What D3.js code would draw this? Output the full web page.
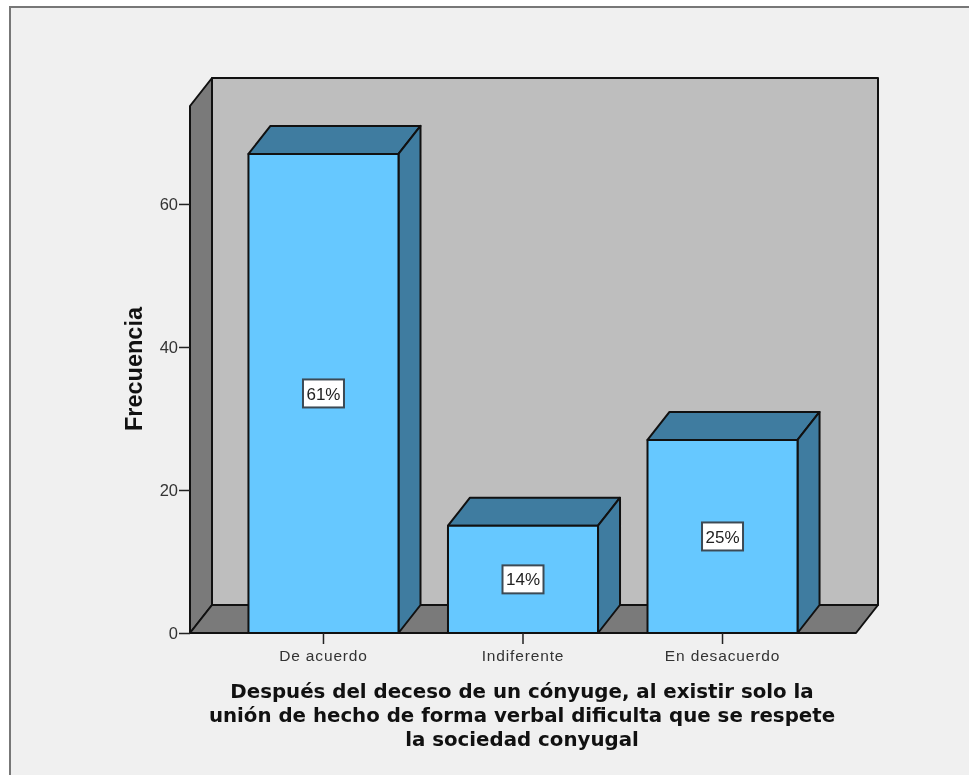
<!DOCTYPE html>
<html>
<head>
<meta charset="utf-8">
<script src="https://cdn.jsdelivr.net/npm/d3@7"></script>
<style>
html, body { margin: 0; padding: 0; background: #fff; }
svg { display: block; filter: blur(0.7px); }
</style>
</head>
<body>
<div id="chart-area"></div>
<script>
var categories = ["De acuerdo", "Indiferente", "En desacuerdo"];
var frequencies = [67, 15, 27];
var percentLabels = ["61%", "14%", "25%"];
var yTicks = [0, 20, 40, 60];
var titleLines = [
	"Después del deceso de un cónyuge, al existir solo la",
	"unión de hecho de forma verbal dificulta que se respete",
	"la sociedad conyugal"
];

var width = 969, height = 775;
var plot = { left: 190, right: 856, top: 106, bottom: 633 };
var depth = { x: 22, y: -28 };

var svg = d3.select("#chart-area")
	.append("svg")
	.attr("width", width)
	.attr("height", height);

// panel and its frame
svg.append("rect").attr("width", width).attr("height", height).attr("fill", "#fff");
svg.append("rect")
	.attr("x", 10).attr("y", 7)
	.attr("width", width + 20).attr("height", height + 20)
	.attr("fill", "#f0f0f0")
	.attr("stroke", "#777")
	.attr("stroke-width", 2);

var x = d3.scaleBand()
	.domain(categories)
	.range([plot.left, plot.right])
	.paddingInner(0.248)
	.paddingOuter(0.293);

var y = d3.scaleLinear()
	.domain([0, 73.7])
	.range([plot.bottom, plot.top]);

var line = d3.line();
function poly(points, fill) {
	return svg.append("path")
		.attr("d", line(points) + "Z")
		.attr("fill", fill)
		.attr("stroke", "#111")
		.attr("stroke-width", 2)
		.attr("stroke-linejoin", "round");
}

// 3d box: back wall, left wall, floor
poly([[plot.left + depth.x, plot.top + depth.y], [plot.right + depth.x, plot.top + depth.y],
	[plot.right + depth.x, plot.bottom + depth.y], [plot.left + depth.x, plot.bottom + depth.y]], "#bebebe");
poly([[plot.left, plot.top], [plot.left + depth.x, plot.top + depth.y],
	[plot.left + depth.x, plot.bottom + depth.y], [plot.left, plot.bottom]], "#7a7a7a");
poly([[plot.left, plot.bottom], [plot.left + depth.x, plot.bottom + depth.y],
	[plot.right + depth.x, plot.bottom + depth.y], [plot.right, plot.bottom]], "#7a7a7a");

// bars
categories.forEach(function (c, i) {
	var x0 = x(c), x1 = x(c) + x.bandwidth();
	var yTop = y(frequencies[i]), y0 = y(0);
	poly([[x0, yTop], [x0 + depth.x, yTop + depth.y], [x1 + depth.x, yTop + depth.y], [x1, yTop]], "#3f7ca0");
	poly([[x1, yTop], [x1 + depth.x, yTop + depth.y], [x1 + depth.x, y0 + depth.y], [x1, y0]], "#3f7ca0");
	poly([[x0, yTop], [x1, yTop], [x1, y0], [x0, y0]], "#66c8ff");
});

// axes
var leftAxis = d3.axisLeft(y).tickValues(yTicks).tickSize(11).tickPadding(1);
var gy = svg.append("g")
	.attr("transform", "translate(" + plot.left + ",0)")
	.call(leftAxis);
var bottomAxis = d3.axisBottom(x).tickSize(11).tickPadding(6);
var gx = svg.append("g")
	.attr("transform", "translate(0," + plot.bottom + ")")
	.call(bottomAxis);
[gy, gx].forEach(function (g) {
	g.select(".domain").remove();
	g.selectAll("line").attr("stroke", "#222").attr("stroke-width", 1.5);
	g.selectAll("text")
		.attr("fill", "#333")
		.style("font-family", "'Liberation Sans', Arial, sans-serif")
		.style("font-size", "16.5px");
});
gx.selectAll("text")
	.style("font-size", "15.5px")
	.style("letter-spacing", "0.85px");

// percent labels
var labels = svg.selectAll(".pct")
	.data(categories)
	.enter()
	.append("g")
	.attr("class", "pct")
	.attr("transform", function (d, i) {
		return "translate(" + (x(d) + x.bandwidth() / 2) + "," + y(frequencies[i] / 2) + ")";
	});
labels.append("rect")
	.attr("x", -20.5).attr("y", -14)
	.attr("width", 41).attr("height", 28)
	.attr("fill", "#fff")
	.attr("stroke", "#3c4a55")
	.attr("stroke-width", 2);
labels.append("text")
	.attr("text-anchor", "middle")
	.attr("dy", "0.36em")
	.attr("fill", "#222")
	.style("font-family", "'Liberation Sans', Arial, sans-serif")
	.style("font-size", "17px")
	.text(function (d, i) { return percentLabels[i]; });

// axis titles
svg.append("text")
	.attr("transform", "translate(141.5,369) rotate(-90)")
	.attr("text-anchor", "middle")
	.attr("fill", "#111")
	.style("font-family", "'Liberation Sans', Arial, sans-serif")
	.style("font-weight", "bold")
	.style("font-size", "23.5px")
	.text("Frecuencia");

svg.selectAll(".x-title")
	.data(titleLines)
	.enter()
	.append("text")
	.attr("class", "x-title")
	.attr("x", 522)
	.attr("y", function (d, i) { return 698 + i * 24; })
	.attr("text-anchor", "middle")
	.attr("fill", "#111")
	.style("font-family", "'DejaVu Sans', sans-serif")
	.style("font-weight", "bold")
	.style("font-size", "19.8px")
	.text(function (d) { return d; });
</script>
</body>
</html>
